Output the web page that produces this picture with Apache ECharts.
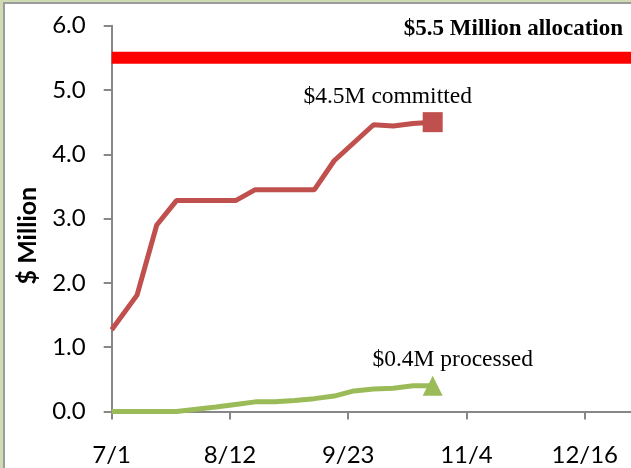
<!DOCTYPE html>
<html>
<head>
<meta charset="utf-8">
<script src="https://cdn.jsdelivr.net/npm/echarts@6/dist/echarts.min.js"></script>
<style>
html,body{margin:0;padding:0;background:#fff;}
#wrap{position:relative;width:631px;height:468px;background:#cfdbb3;overflow:hidden;}
#frame{position:absolute;left:3px;top:2px;width:700px;height:600px;background:#fff;border-left:2px solid #9c9c9c;border-top:2px solid #9c9c9c;}
#c{position:absolute;left:0;top:0;width:631px;height:468px;}
</style>
</head>
<body>
<div id="wrap"><div id="frame"></div><div id="c"></div></div>
<script>
// days since 7/1
const days = [0, 9, 16, 23, 30, 37, 44, 51, 58, 65, 72, 79, 86, 93, 100, 107, 114];
const committed = [1.27, 1.81, 2.90, 3.28, 3.28, 3.28, 3.28, 3.45, 3.45, 3.45, 3.45, 3.90, 4.18, 4.46, 4.44, 4.48, 4.50];
const processed = [0, 0, 0, 0, 0.035, 0.07, 0.11, 0.15, 0.15, 0.17, 0.20, 0.24, 0.32, 0.35, 0.36, 0.40, 0.40];
const allocation = 5.5;
const allocationSpan = [0, 210];
const tickDays = [0, 42, 84, 126, 168];
const tickLabels = ['7/1', '8/12', '9/23', '11/4', '12/16'];
const titleText = '$5.5 Million allocation';
const committedText = '$4.5M committed';
const processedText = '$0.4M processed';
const yName = '$ Million';

const pts = (xs, ys) => xs.map((x, i) => [x, ys[i]]);
const last = a => a[a.length - 1];

const chart = echarts.init(document.getElementById('c'), null, {renderer: 'canvas'});
const gray = '#878787';
chart.setOption({
  backgroundColor: 'transparent',
  animation: false,
  title: {
    text: titleText, right: 8, top: 18, padding: 0,
    textStyle: {fontFamily: 'Liberation Serif', fontWeight: 'bold', fontSize: 23, color: '#000'}
  },
  grid: {left: 111.7, right: -72, top: 25.7, bottom: 56.5, containLabel: false, outerBoundsMode: 'none'},
  xAxis: {
    type: 'value', min: allocationSpan[0], max: allocationSpan[1], interval: 42,
    axisLine: {show: true, lineStyle: {color: gray, width: 2}},
    axisTick: {show: true, length: 8, lineStyle: {color: gray, width: 2}},
    splitLine: {show: false},
    axisLabel: {
      margin: 32, color: '#000', fontFamily: 'Lato', fontSize: 24,
      formatter: v => { const i = tickDays.indexOf(v); return i >= 0 ? tickLabels[i] : ''; }
    }
  },
  yAxis: {
    type: 'value', min: 0, max: 6, interval: 1,
    axisLine: {show: true, lineStyle: {color: gray, width: 2}},
    axisTick: {show: true, length: 8, lineStyle: {color: gray, width: 2}},
    splitLine: {show: false},
    axisLabel: {margin: 26, color: '#000', fontFamily: 'Lato', fontSize: 24, formatter: v => v.toFixed(1)},
    name: yName, nameLocation: 'middle', nameRotate: 90, nameGap: 71,
    nameTextStyle: {fontFamily: 'Lato', fontWeight: 'bold', fontSize: 25, color: '#000', padding: [0, 34, 0, 0]}
  },
  series: [
    {
      type: 'line', data: allocationSpan.map(d => [d, allocation]),
      symbol: 'none', lineStyle: {color: '#ff0000', width: 12}, z: 3
    },
    {
      type: 'line', data: pts(days, committed), symbol: 'none',
      lineStyle: {color: '#c0504d', width: 5}, z: 4
    },
    {
      type: 'line', data: pts(days, processed), symbol: 'none',
      lineStyle: {color: '#9bbb59', width: 5}, z: 4
    },
    {
      type: 'scatter', data: [[last(days), last(committed)]], symbol: 'rect', symbolSize: 20,
      itemStyle: {color: '#c0504d', opacity: 1}, z: 5,
      label: {show: true, position: 'top', offset: [-45, 2], formatter: committedText,
        fontFamily: 'Liberation Serif', fontSize: 23.5, color: '#000'}
    },
    {
      type: 'scatter', data: [[last(days), last(processed)]], symbol: 'triangle', symbolSize: 20,
      itemStyle: {color: '#9bbb59', opacity: 1}, z: 5,
      label: {show: true, position: 'top', offset: [20, 1], formatter: processedText,
        fontFamily: 'Liberation Serif', fontSize: 23.5, color: '#000'}
    }
  ]
});
</script>
</body>
</html>
